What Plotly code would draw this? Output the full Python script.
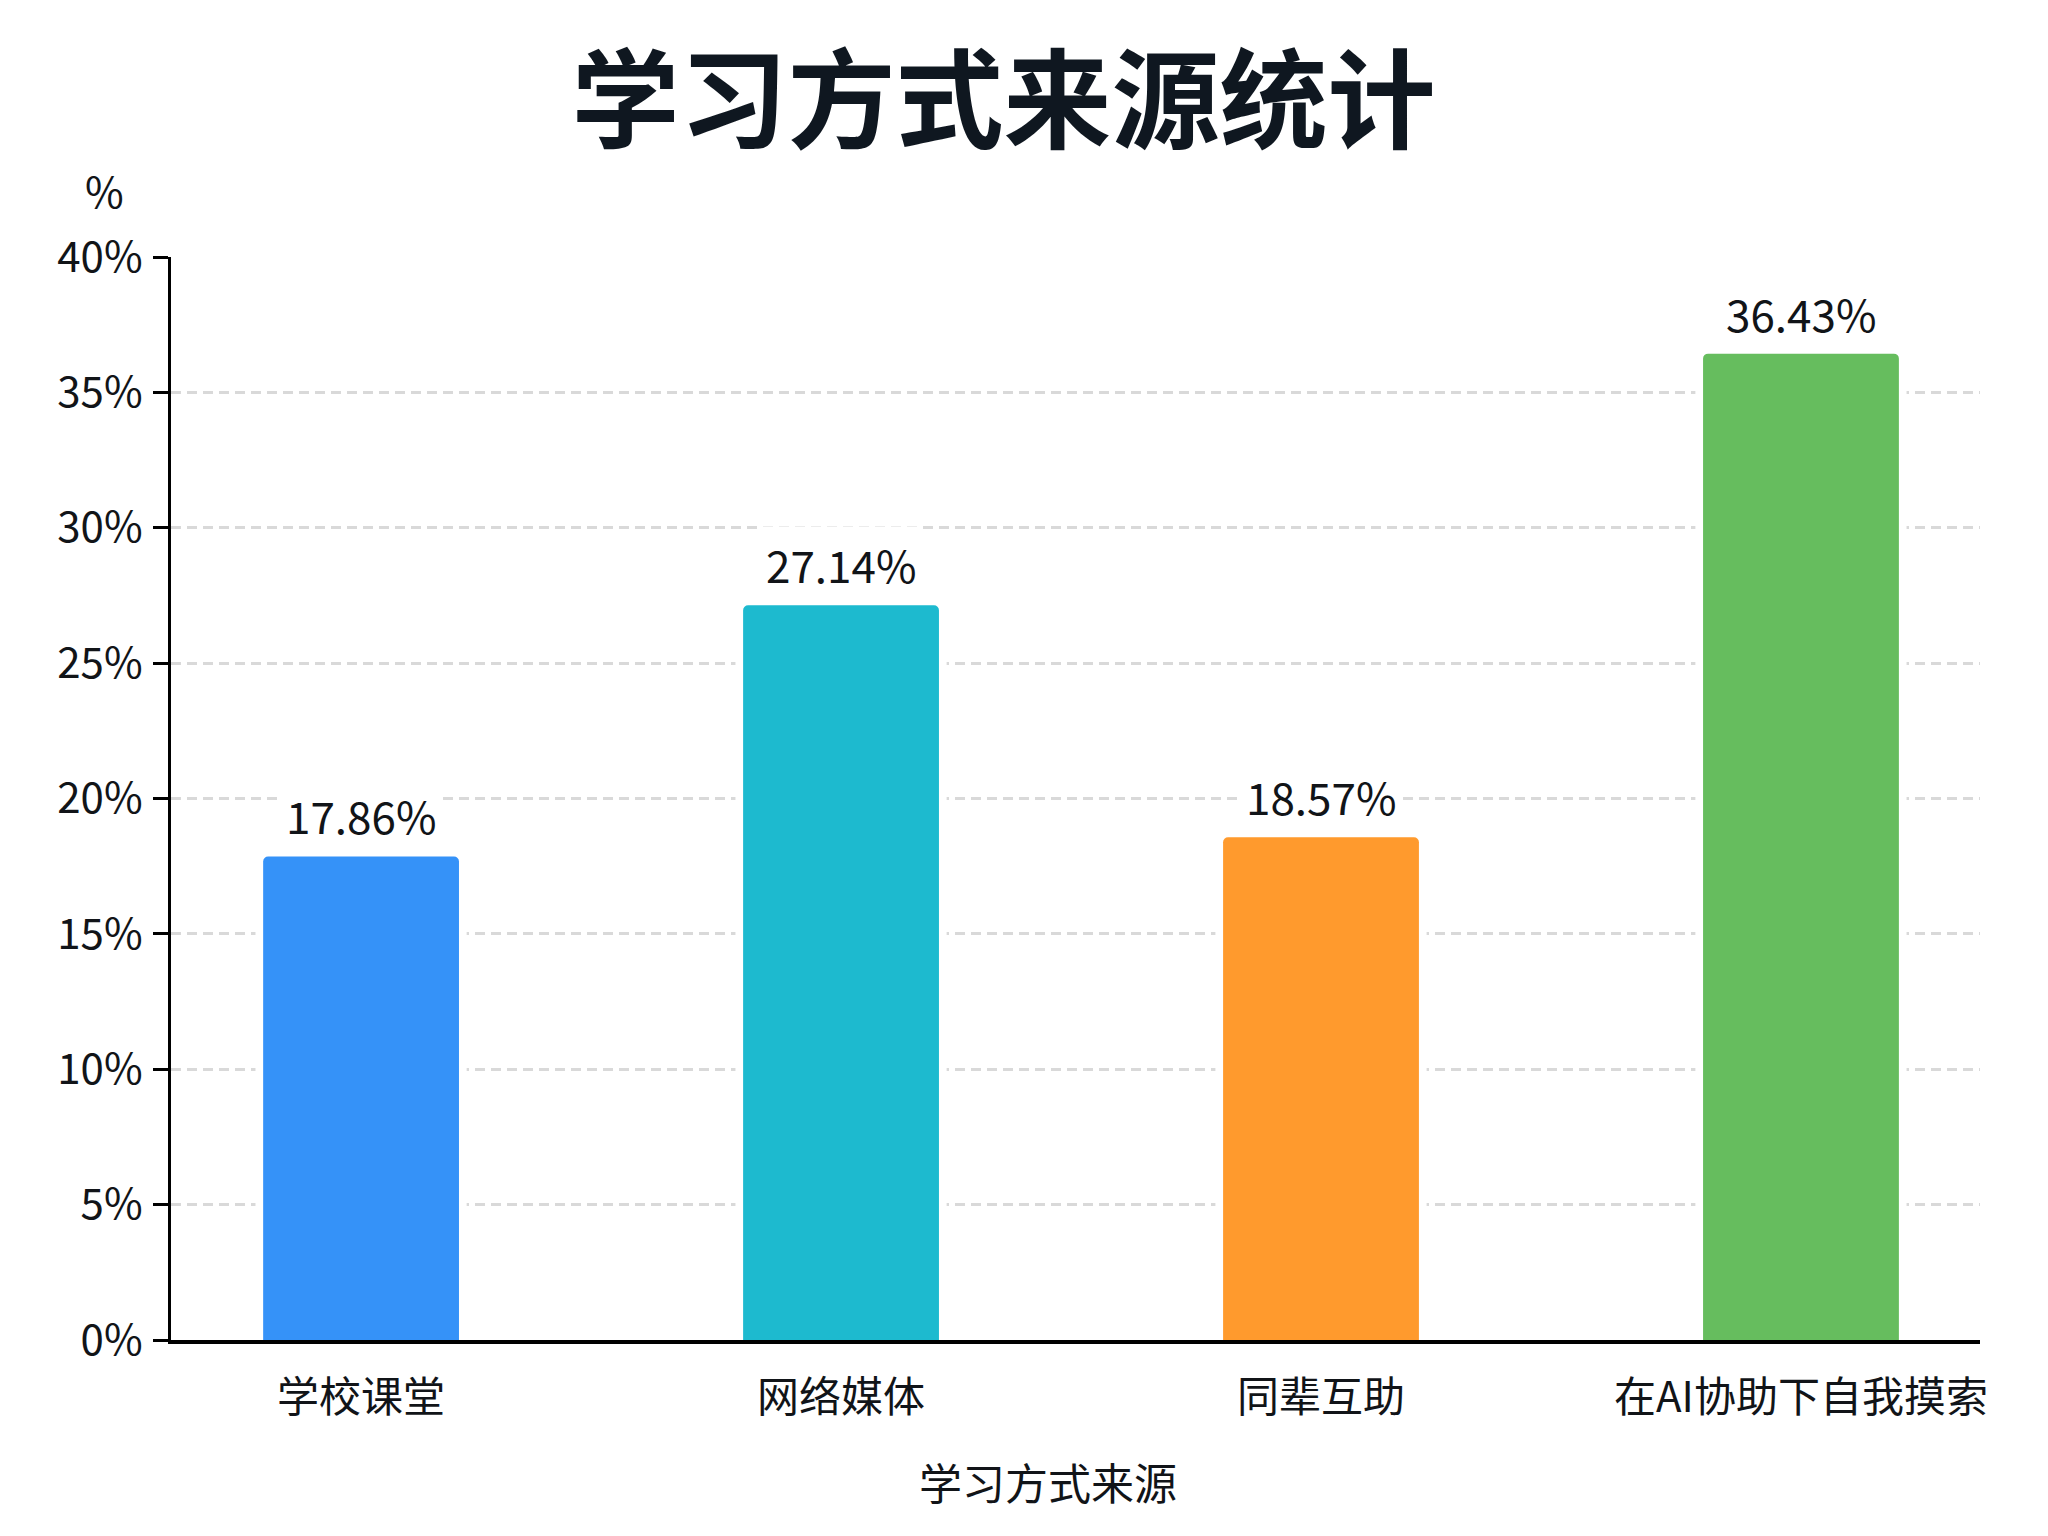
import plotly.graph_objects as go

# datos
categories = ['学校课堂', '网络媒体', '同辈互助', '在AI协助下自我摸索']
values = [17.86, 27.14, 18.57, 36.43]
bar_colors = ['#3592F8', '#1DBACF', '#FF9A2D', '#66BD5E']
y_ticks = [0, 5, 10, 15, 20, 25, 30, 35, 40]
y_tick_labels = ['0%', '5%', '10%', '15%', '20%', '25%', '30%', '35%', '40%']

FONT = 'Noto Sans CJK SC'
INK = '#111418'

fig = go.Figure()

# halo blanco detrás de cada barra (corta las líneas de la rejilla)
fig.add_trace(go.Bar(
    x=categories, y=values, width=0.44,
    marker=dict(color='white', line=dict(width=0)),
    hoverinfo='skip', showlegend=False,
))

fig.add_trace(go.Bar(
    x=categories, y=values, width=0.408,
    marker=dict(color=bar_colors, line=dict(width=0), cornerradius=5),
    showlegend=False,
))

# etiquetas de valor encima de las barras
for cat, val in zip(categories, values):
    fig.add_annotation(
        x=cat, y=val, text=f'{val:.2f}%',
        showarrow=False, yanchor='bottom', yshift=3,
        bgcolor='white', borderpad=5,
        font=dict(family=FONT, size=44, color=INK),
    )

# título del eje Y, horizontal encima del eje
fig.add_annotation(
    xref='paper', yref='paper', x=-0.037, y=1.062,
    text='%', showarrow=False, xanchor='center', yanchor='middle',
    font=dict(family=FONT, size=42, color=INK),
)

# título del eje X
fig.add_annotation(
    xref='paper', yref='paper', x=0.485, y=-0.130,
    text='学习方式来源', showarrow=False, xanchor='center', yanchor='middle',
    font=dict(family=FONT, size=43, color=INK),
)

# la página añade 8px de margen al body
fig.update_layout(
    width=2040, height=1528,
    paper_bgcolor='white', plot_bgcolor='white',
    barmode='overlay',
    margin=dict(l=163, r=68, t=249, b=196),
    font=dict(family=FONT, color=INK),
    title=dict(
        text='<b>学习方式来源统计</b>',
        x=0.488, xanchor='center', xref='container',
        y=1 - 94 / 1528, yref='container', yanchor='middle',
        font=dict(family=FONT, size=108, color='#0F1720', weight=900),
    ),
)

fig.update_xaxes(
    range=[-0.396, 3.373],
    showline=True, linecolor='black', linewidth=4,
    ticks='', showgrid=False,
    tickfont=dict(family=FONT, size=42, color=INK),
    ticklabelstandoff=18,
)

fig.update_yaxes(
    range=[0, 40], tickvals=y_ticks, ticktext=y_tick_labels,
    showline=True, linecolor='black', linewidth=3,
    ticks='outside', ticklen=15, tickwidth=3, tickcolor='black',
    tickfont=dict(family=FONT, size=42, color=INK),
    ticklabelstandoff=2,
    showgrid=True, gridcolor='#D9D9D9', gridwidth=2.5, griddash='10px,6px',
    zeroline=False,
)

fig.write_html('out.html')
